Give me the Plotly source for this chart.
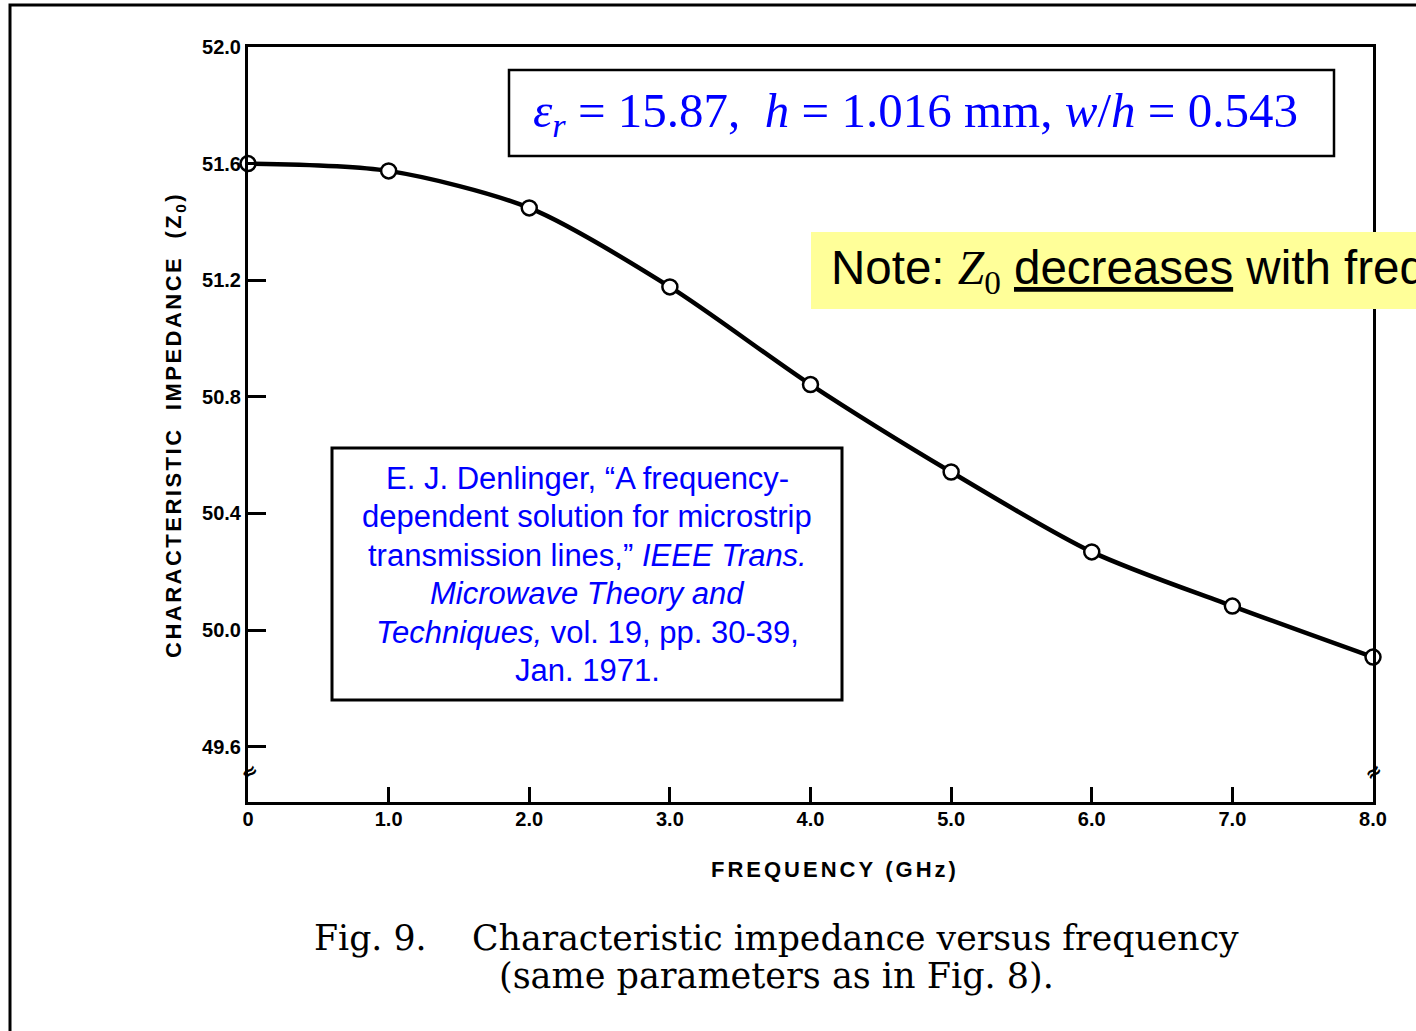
import plotly.graph_objects as go

# ---- data ----
freq_ghz = [0, 1, 2, 3, 4, 5, 6, 7, 8]
z0_ohm = [51.60, 51.575, 51.448, 51.177, 50.842, 50.542, 50.268, 50.082, 49.907]

x_tickvals = [0, 1, 2, 3, 4, 5, 6, 7, 8]
x_ticktext = ["0", "1.0", "2.0", "3.0", "4.0", "5.0", "6.0", "7.0", "8.0"]
y_tickvals = [49.6, 50.0, 50.4, 50.8, 51.2, 51.6, 52.0]
y_ticktext = ["49.6", "50.0", "50.4", "50.8", "51.2", "51.6", "52.0"]

citation_lines = [
    "E. J. Denlinger, “A frequency-",
    "dependent solution for microstrip",
    "transmission lines,” <i>IEEE Trans.</i>",
    "<i>Microwave Theory and</i>",
    "<i>Techniques,</i> vol. 19, pp. 30-39,",
    "Jan. 1971.",
]

W, H = 1416, 1031
L, R, T, B = 248, 43, 47, 229
PW, PH = W - L - R, H - T - B


def px(x):
    return (x - L) / PW


def py(y):
    return (H - B - y) / PH


BLUE = "#0000FF"

fig = go.Figure()
fig.add_trace(go.Scatter(
    x=freq_ghz, y=z0_ohm, mode="lines+markers",
    line=dict(color="black", width=4.5, shape="spline", smoothing=0.8),
    marker=dict(symbol="circle", size=15, color="white",
                line=dict(color="black", width=2.5)),
    cliponaxis=False, hoverinfo="skip", showlegend=False,
))

tickfont = dict(family="Liberation Sans", size=20, color="black", weight="bold")

fig.update_xaxes(
    range=[0, 8], tickvals=x_tickvals, ticktext=x_ticktext,
    ticks="inside", ticklen=15, tickwidth=2.5, tickcolor="black",
    showline=True, linewidth=3, linecolor="black", mirror=True,
    showgrid=False, zeroline=False, tickfont=tickfont, ticklabelstandoff=-3,
)
fig.update_yaxes(
    range=[49.41, 52.0], tickvals=y_tickvals, ticktext=y_ticktext,
    ticks="inside", ticklen=18, tickwidth=2.5, tickcolor="black",
    showline=True, linewidth=3, linecolor="black", mirror=True,
    showgrid=False, zeroline=False, tickfont=tickfont,
)

shapes = [
    # outer slide frame
    dict(type="rect", xref="paper", yref="paper", x0=px(10), y0=py(1060),
         x1=px(1440), y1=py(5), line=dict(color="black", width=3),
         fillcolor="rgba(0,0,0,0)", layer="below"),
    # parameter box
    dict(type="rect", xref="paper", yref="paper", x0=px(509), x1=px(1334),
         y0=py(156), y1=py(70), line=dict(color="black", width=2.5),
         fillcolor="white", layer="above"),
    # citation box
    dict(type="rect", xref="paper", yref="paper", x0=px(332), x1=px(842),
         y0=py(700), y1=py(448), line=dict(color="black", width=3),
         fillcolor="white", layer="above"),
    # yellow note
    dict(type="rect", xref="paper", yref="paper", x0=px(811), x1=px(1440),
         y0=py(309), y1=py(232), line=dict(width=0),
         fillcolor="#FFFF99", layer="above"),
]

nb = "\u00a0"
annotations = [
    dict(text=f"<i>ε<sub>r</sub></i> = 15.87,{nb}{nb}<i>h</i> = 1.016 mm, <i>w</i>/<i>h</i> = 0.543",
         x=px(915), y=py(113), xref="paper", yref="paper", showarrow=False,
         xanchor="center", yanchor="middle",
         font=dict(family="Liberation Serif", size=49, color=BLUE)),
    dict(text=("Note: <span style=\"font-family:Liberation Serif\"><i>Z</i><sub>0</sub></span> "
               "<u>decreases</u> with frequency"),
         x=px(829), y=py(271), xref="paper", yref="paper", showarrow=False,
         xanchor="left", yanchor="middle", align="left",
         font=dict(family="Liberation Sans", size=47.5, color="black")),
    # y-axis title
    dict(text=("<span style=\"letter-spacing:2.5px\">CHARACTERISTIC"
               f"{nb}{nb}IMPEDANCE{nb}{nb}(Z<sub>0</sub>)</span>"),
         x=px(175), y=py(425), xref="paper", yref="paper", showarrow=False,
         textangle=-90, xanchor="center", yanchor="middle",
         font=dict(family="Liberation Sans", size=22, color="black", weight="bold")),
    # x-axis title
    dict(text=f"<span style=\"letter-spacing:3px\">FREQUENCY{nb}(GHz)</span>",
         x=px(835), y=py(869), xref="paper", yref="paper", showarrow=False,
         xanchor="center", yanchor="middle",
         font=dict(family="Liberation Sans", size=22, color="black", weight="bold")),
    # axis break marks
    dict(text="≈", x=px(249), y=py(772), xref="paper", yref="paper", showarrow=False,
         xanchor="center", yanchor="middle", textangle=-35,
         font=dict(family="DejaVu Sans", size=20, color="black", weight="bold")),
    dict(text="≈", x=px(1373), y=py(772), xref="paper", yref="paper", showarrow=False,
         xanchor="center", yanchor="middle", textangle=-35,
         font=dict(family="DejaVu Sans", size=20, color="black", weight="bold")),
    # caption
    dict(text="Fig. 9.", x=px(312), y=py(938), xref="paper", yref="paper",
         showarrow=False, xanchor="left", yanchor="middle",
         font=dict(family="DejaVu Serif", size=34.7, color="black")),
    dict(text="Characteristic impedance versus frequency", x=px(470), y=py(938),
         xref="paper", yref="paper", showarrow=False, xanchor="left", yanchor="middle",
         font=dict(family="DejaVu Serif", size=34.7, color="black")),
    dict(text="(same parameters as in Fig. 8).", x=px(776), y=py(976),
         xref="paper", yref="paper", showarrow=False, xanchor="center", yanchor="middle",
         font=dict(family="DejaVu Serif", size=35, color="black")),
]

# citation, one annotation per line for exact line spacing
for i, line in enumerate(citation_lines):
    annotations.append(dict(
        text=line, x=px(587), y=py(478 + 38.5 * i), xref="paper", yref="paper",
        showarrow=False, xanchor="center", yanchor="middle",
        font=dict(family="Liberation Sans", size=31, color=BLUE)))

fig.update_layout(
    width=W, height=H, margin=dict(l=L, r=R, t=T, b=B, autoexpand=False),
    paper_bgcolor="white", plot_bgcolor="white",
    shapes=shapes, annotations=annotations, showlegend=False,
)

fig.write_html("out.html")
